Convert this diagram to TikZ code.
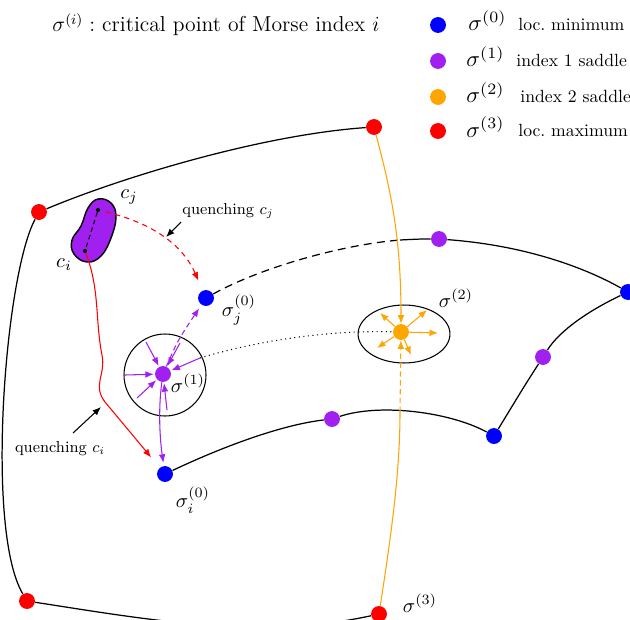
\documentclass[tikz,border=0pt]{standalone}
\usetikzlibrary{arrows.meta,shapes.geometric}
\definecolor{mpurple}{RGB}{160,32,240}
\definecolor{morange}{RGB}{255,165,0}
\begin{document}
\begin{tikzpicture}[x=0.566pt,y=-0.566pt,
  dot/.style={circle,fill=#1,draw=none,inner sep=0pt,minimum size=9pt},
  tinydot/.style={circle,fill=black,inner sep=0pt,minimum size=2.4pt},
  curve/.style={line width=0.7pt},
  tip/.style={-{Latex[length=4.8pt,width=3.8pt]}},
  lab/.style={inner sep=0pt,scale=1.15},
  legsig/.style={anchor=base west,inner sep=0pt,scale=1.28},
  legtxt/.style={anchor=base west,inner sep=0pt},
  pline/.style={mpurple,line width=0.6pt,tip},
  oline/.style={morange,line width=0.6pt,tip},
]
\useasboundingbox (0,0) rectangle (630,619);

% title
\node[anchor=base,font=\large,scale=1.02] (title) at (216,32) {$\sigma^{(i)}:$ critical point of Morse index $i$};

% legend
\node[dot=blue] (k0) at (438,25) {};
\node[legsig] (k0s) at (468,31) {$\sigma^{(0)}$};
\node[legtxt] (k0t) at (518,31) {loc.\ minimum};
\node[dot=mpurple] (k1) at (438,61) {};
\node[legsig] (k1s) at (466,67) {$\sigma^{(1)}$};
\node[legtxt] (k1t) at (516,67) {index 1 saddle};
\node[dot=morange] (k2) at (438,97) {};
\node[legsig] (k2s) at (466,103) {$\sigma^{(2)}$};
\node[legtxt] (k2t) at (520,103) {index 2 saddle};
\node[dot=red] (k3) at (438,131) {};
\node[legsig] (k3s) at (466,137) {$\sigma^{(3)}$};
\node[legtxt] (k3t) at (518,137) {loc.\ maximum};

% regions
\node[draw,circle,line width=0.6pt,minimum size=46.4pt] (C1) at (165,375) {};
\node[draw,ellipse,line width=0.6pt,minimum width=52pt,minimum height=32.8pt] (E2) at (404,334) {};
\draw[fill=mpurple,line width=0.8pt] plot[smooth cycle,tension=0.7] coordinates {(98,199) (111,203) (116,217) (111,238) (101,256) (87,262) (74,254) (72,240) (81,226) (88,208)};

% critical points
\node[dot=red] (R1) at (39,212) {};
\node[dot=red] (R2) at (374,127) {};
\node[dot=red] (R3) at (27,601) {};
\node[dot=red] (R4) at (379,614) {};
\node[dot=blue] (Bj) at (206,298) {};
\node[dot=blue] (Bi) at (165,474) {};
\node[dot=blue] (B3) at (494,436) {};
\node[dot=blue] (B4) at (628,292) {};
\node[dot=mpurple] (P1) at (163,374) {};
\node[dot=mpurple] (P2) at (439,239) {};
\node[dot=mpurple] (P3) at (543,357) {};
\node[dot=mpurple] (P4) at (332,419) {};
\node[dot=morange] (O) at (401,332) {};
\node[tinydot] (cj) at (98,210) {};
\node[tinydot] (ci) at (85,251) {};

\coordinate (X) at (400,240);
\coordinate (Y) at (400,412);
\coordinate (D) at (200,358);

% black edges
\draw[curve] (R1) .. controls (120,178) and (260,135) .. (R2);
\draw[curve] (R1) .. controls (5,275) and (-15,530) .. (R3);
\draw[curve] (R3) .. controls (150,620) and (260,640) .. (R4);
\draw[curve,dash pattern=on 4.5pt off 3pt] (Bj) .. controls (260,268) and (340,245) .. (X);
\draw[curve] (X) .. controls (420,239) .. (P2);
\draw[curve] (P2) .. controls (520,245) and (580,265) .. (B4);
\draw[curve] (B4) .. controls (590,310) and (560,330) .. (P3);
\draw[curve] (P3) .. controls (525,385) .. (B3);
\draw[curve] (B3) .. controls (450,412) and (380,403) .. (P4);
\draw[curve] (P4) .. controls (280,425) and (220,448) .. (Bi);
\draw[line width=0.6pt,dotted] (D) .. controls (250,343) and (320,330) .. (O);

% purple flow
\draw[pline,dash pattern=on 3pt off 2pt,shorten >=2.3pt] (P1) .. controls (178,340) .. (Bj);
\draw[pline,shorten >=1.7pt] (P1) .. controls (158,410) and (160,440) .. (Bi);
\coordinate (u1) at (146,342);
\coordinate (u2) at (180,343);
\coordinate (u3) at (125,375);
\coordinate (u4) at (137,398);
\coordinate (u5) at (167,410);
\foreach \t in {u1,u2,D,u3,u4,u5} \draw[pline,shorten >=0.5pt] (\t) -- (P1);

% orange flow
\draw[oline] (R2) .. controls (392,195) and (401,240) .. (O);
\draw[morange,line width=0.6pt] (R4) .. controls (392,530) and (400,470) .. (Y);
\draw[oline,dash pattern=on 3pt off 2pt] (Y) -- (O);
\coordinate (o1) at (380,313);
\coordinate (o2) at (427,310);
\coordinate (o3) at (438,333);
\coordinate (o4) at (377,348);
\coordinate (o5) at (411,355);
\foreach \t in {o1,o2,o3,o4,o5} \draw[oline] (O) -- (\t);

% quenching
\draw[line width=0.6pt,dash pattern=on 2.5pt off 2pt] (cj) -- (ci);
\draw[red,line width=0.6pt,tip,dash pattern=on 3pt off 2.5pt,shorten <=3pt,shorten >=6pt] (cj) .. controls (160,225) and (185,250) .. (Bj);
\draw[red,line width=0.6pt,tip,shorten >=7.5pt] (ci) .. controls (100,290) and (95,320) .. (102,355) .. controls (106,375) and (92,385) .. (105,402) -- (Bi);
\coordinate (qja) at (181,222);
\coordinate (qjb) at (166,237);
\draw[line width=0.6pt,tip] (qja) -- (qjb);
\coordinate (qia) at (73,433);
\coordinate (qib) at (101,407);
\draw[line width=0.6pt,tip] (qia) -- (qib);

% labels
\node[lab] (lj) at (239,310) {$\sigma^{(0)}_j$};
\node[lab] (l1) at (188,383) {$\sigma^{(1)}$};
\node[lab] (l2) at (456,298) {$\sigma^{(2)}$};
\node[lab] (li) at (193,500) {$\sigma^{(0)}_i$};
\node[lab] (l3) at (420,603) {$\sigma^{(3)}$};
\node[lab] (lcj) at (129,197) {$c_j$};
\node[lab] (lci) at (64,265) {$c_i$};
\node[font=\small,inner sep=0pt] (qj) at (228,211) {quenching $c_j$};
\node[font=\small,inner sep=0pt] (qi) at (60,449) {quenching $c_i$};
\end{tikzpicture}
\end{document}
